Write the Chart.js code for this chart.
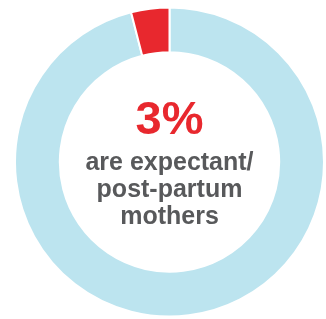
<!DOCTYPE html>
<html>
<head>
<meta charset="utf-8">
<script src="https://cdn.jsdelivr.net/npm/chart.js@4"></script>
<style>
  html, body { margin: 0; padding: 0; background: #fff; }
  #wrap { width: 326px; height: 319px; }
</style>
</head>
<body>
<div id="wrap"><canvas id="grafico"></canvas></div>
<script>
// dados do gráfico
const categorias = ['Others', 'Expectant/post-partum mothers'];
const valores = [96, 4];
const cores = ['#bce4ef', '#e8282e'];
const textoCentral = '3%';
const linhasTexto = ['are expectant/', 'post-partum', 'mothers'];

// texto no centro da rosca
const textoCentro = {
    id: 'textoCentro',
    afterDraw(chart) {
        const ctx = chart.ctx;
        const meta = chart.getDatasetMeta(0).data[0];
        const cx = meta.x;
        const cy = meta.y;
        ctx.save();
        ctx.textAlign = 'center';
        ctx.textBaseline = 'middle';
        ctx.fillStyle = '#e8282e';
        ctx.font = "bold 47px 'Liberation Sans', sans-serif";
        ctx.fillText(textoCentral, cx, cy - 41);
        ctx.fillStyle = '#58595b';
        ctx.font = "bold 25px 'Liberation Sans', sans-serif";
        linhasTexto.forEach((linha, i) => {
            ctx.fillText(linha, cx, cy + 1 + i * 27);
        });
        ctx.restore();
    }
};

const ctx = document.getElementById('grafico').getContext('2d');
const grafico = new Chart(ctx, {
    type: 'doughnut',
    data: {
        labels: categorias,
        datasets: [{
            data: valores,
            backgroundColor: cores,
            borderColor: '#ffffff',
            borderWidth: 2,
            hoverOffset: 0
        }]
    },
    options: {
        responsive: true,
        maintainAspectRatio: false,
        animation: false,
        cutout: '71%',
        layout: {
            padding: { left: 14, right: 1, top: 6, bottom: 1 }
        },
        plugins: {
            legend: { display: false },
            tooltip: { enabled: false }
        }
    },
    plugins: [textoCentro]
});
</script>
</body>
</html>
